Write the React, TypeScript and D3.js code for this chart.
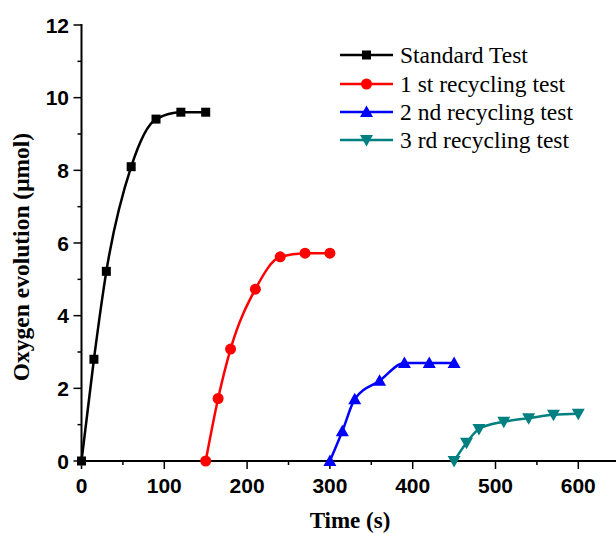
import React from "react";
import * as d3 from "d3";

const W = 616;
const H = 533;

const seriesNames = ["Standard Test", "1 st recycling test", "2 nd recycling test", "3 rd recycling test"];
const seriesColors = ["#000000", "#ff0000", "#0000ff", "#008080"];
const seriesShapes = ["square", "circle", "triangle", "triangleDown"];

const standardX = [0, 15, 30, 60, 90, 120, 150];
const standardY = [0, 2.8, 5.22, 8.1, 9.41, 9.6, 9.6];
const recycle1X = [150, 165, 180, 210, 240, 270, 300];
const recycle1Y = [0, 1.72, 3.08, 4.73, 5.62, 5.72, 5.72];
const recycle2X = [300, 315, 330, 360, 390, 420, 450];
const recycle2Y = [0, 0.82, 1.7, 2.21, 2.7, 2.7, 2.7];
const recycle3X = [450, 465, 480, 510, 540, 570, 600];
const recycle3Y = [0, 0.5, 0.88, 1.08, 1.18, 1.27, 1.3];

const xTicks = [0, 100, 200, 300, 400, 500, 600];
const xMinor = [50, 150, 250, 350, 450, 550];
const yTicks = [0, 2, 4, 6, 8, 10, 12];
const yMinor = [1, 3, 5, 7, 9, 11];

const allX = [standardX, recycle1X, recycle2X, recycle3X];
const allY = [standardY, recycle1Y, recycle2Y, recycle3Y];

const margin = { left: 81.5, top: 25, bottom: 461 };

function Marker({ shape, x, y, color }: { shape: string; x: number; y: number; color: string }) {
  if (shape === "square") return <rect x={x - 4.5} y={y - 4.5} width={9} height={9} fill={color} />;
  if (shape === "circle") return <circle cx={x} cy={y} r={5.5} fill={color} />;
  if (shape === "triangle")
    return <path d={`M${x},${y - 6.5}L${x + 6.5},${y + 5}L${x - 6.5},${y + 5}Z`} fill={color} />;
  return <path d={`M${x},${y + 6.5}L${x + 6.5},${y - 5}L${x - 6.5},${y - 5}Z`} fill={color} />;
}

export default function App() {
  const x = d3.scaleLinear().domain([0, 600]).range([margin.left, 578.3]);
  const y = d3.scaleLinear().domain([0, 12]).range([margin.bottom, margin.top]);
  const line = d3
    .line<[number, number]>()
    .x((d) => x(d[0]))
    .y((d) => y(d[1]))
    .curve(d3.curveMonotoneX);

  const sans = "'Liberation Sans', Arial, sans-serif";
  const serif = "'Liberation Serif', 'Times New Roman', serif";

  const legendY = [55, 84, 112, 140];

  return (
    <svg width={W} height={H} style={{ position: "absolute", left: 0, top: 0, background: "#fff" }}>
      <rect width={W} height={H} fill="#fff" />
      {/* axes */}
      <line x1={margin.left} x2={margin.left} y1={margin.top - 1} y2={margin.bottom + 1} stroke="#000" strokeWidth={2} />
      <line x1={margin.left - 1} x2={W} y1={margin.bottom} y2={margin.bottom} stroke="#000" strokeWidth={2} />
      {yTicks.map((t) => (
        <g key={"yt" + t}>
          <line x1={margin.left - 8} x2={margin.left} y1={y(t)} y2={y(t)} stroke="#000" strokeWidth={1.5} />
          <text x={69} y={y(t)} dy="0.36em" textAnchor="end" fontFamily={sans} fontWeight="bold" fontSize={21}>
            {t}
          </text>
        </g>
      ))}
      {yMinor.map((t) => (
        <line key={"ym" + t} x1={margin.left - 4} x2={margin.left} y1={y(t)} y2={y(t)} stroke="#000" strokeWidth={1.5} />
      ))}
      {xTicks.map((t) => (
        <g key={"xt" + t}>
          <line x1={x(t)} x2={x(t)} y1={margin.bottom} y2={margin.bottom + 8} stroke="#000" strokeWidth={1.5} />
          <text x={x(t)} y={493} textAnchor="middle" fontFamily={sans} fontWeight="bold" fontSize={21}>
            {t}
          </text>
        </g>
      ))}
      {xMinor.map((t) => (
        <line key={"xm" + t} x1={x(t)} x2={x(t)} y1={margin.bottom} y2={margin.bottom + 4} stroke="#000" strokeWidth={1.5} />
      ))}
      <text x={350} y={528} textAnchor="middle" fontFamily={serif} fontWeight="bold" fontSize={23}>
        Time (s)
      </text>
      <text
        transform={`translate(29,257) rotate(-90)`}
        textAnchor="middle"
        fontFamily={serif}
        fontWeight="bold"
        fontSize={23.5}
      >
        Oxygen evolution (μmol)
      </text>
      {/* series */}
      {allX.map((xs, i) => {
        const pts = xs.map((v, j) => [v, allY[i][j]] as [number, number]);
        return (
          <g key={"s" + i}>
            <path d={line(pts) || ""} fill="none" stroke={seriesColors[i]} strokeWidth={2.5} />
            {pts.map((p, j) => (
              <Marker key={j} shape={seriesShapes[i]} x={x(p[0])} y={y(p[1])} color={seriesColors[i]} />
            ))}
          </g>
        );
      })}
      {/* legend */}
      {seriesNames.map((name, i) => (
        <g key={"l" + i}>
          <line x1={340} x2={393} y1={legendY[i]} y2={legendY[i]} stroke={seriesColors[i]} strokeWidth={2.5} />
          <Marker shape={seriesShapes[i]} x={366.5} y={legendY[i]} color={seriesColors[i]} />
          <text x={400} y={legendY[i]} dy="0.33em" fontFamily={serif} fontSize={23.5}>
            {name}
          </text>
        </g>
      ))}
    </svg>
  );
}
